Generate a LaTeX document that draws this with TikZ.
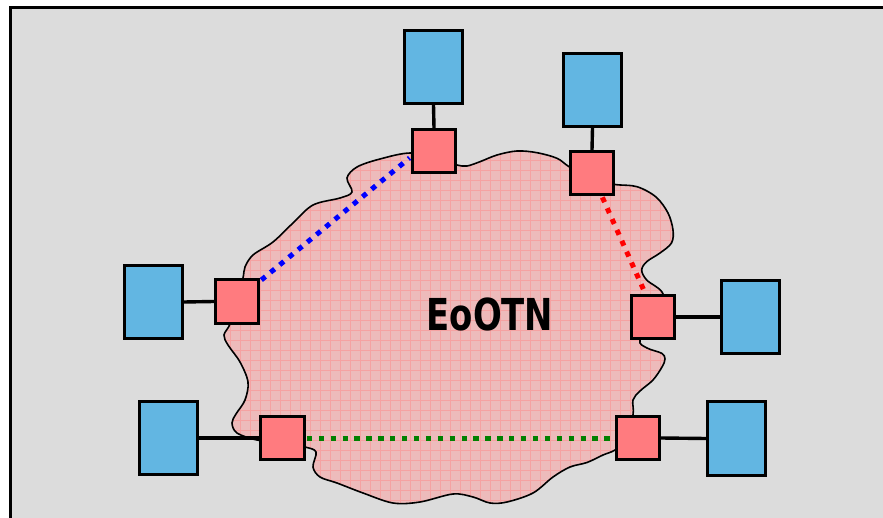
\documentclass[tikz,border=0pt]{standalone}
\usepackage{fontspec}
\newfontfamily\labelfont{DejaVu Sans}
\usetikzlibrary{calc}
\definecolor{bgGray}{HTML}{DCDCDC}
\definecolor{hostBlue}{HTML}{62B6E2}
\definecolor{nodeRed}{HTML}{FF7B7F}
\definecolor{cloudPink}{HTML}{EDBBBB}
\definecolor{gridPink}{HTML}{F5A2A2}
\definecolor{dotGreen}{HTML}{008000}
\tikzset{
  hostbox/.style={draw=black, line width=2.6pt, fill=hostBlue, inner sep=0pt, minimum width=58.5pt, minimum height=73.5pt},
  nebox/.style={draw=black, line width=2.6pt, fill=nodeRed, inner sep=0pt, minimum width=43.5pt, minimum height=43.5pt},
  link/.style={draw=black, line width=3.4pt},
  trail/.style={line width=5pt, dash pattern=on 5.3pt off 6.6pt},
}
\begin{document}
\begin{tikzpicture}[x=1pt, y=-1pt]
\useasboundingbox (0,0) rectangle (883,518);
\begin{scope}
\clip (0,0) rectangle (883,518);
\fill[white] (0,0) rectangle (883,518);
\draw[fill=bgGray, line width=3pt] (10.5,7.5) rectangle (900,540);
\end{scope}
% cloud
\def\cloudpath{plot[smooth cycle, tension=0.55] coordinates {
 (411,153) (440,160) (457,165) (467,166) (480,161.7) (497,155) (517,151) (537,152.7) (557,158.3) (569,166.7)
 (592,180) (615,184.5) (637,186.7) (656,197) (668,213) (673,230) (671.5,243) (660,253) (646.7,261.7)
 (641.7,270) (646.7,280) (663,294) (658,318) (640,340) (647,348) (661.7,353.3) (665,359) (662,367)
 (653,380) (640,391) (633,400) (633,415) (625,440) (615,450) (603,455) (587,462.5) (570,467) (553,477)
 (533,493) (507,502) (490,503) (473,497) (453,494) (420,502) (393,503) (363,493) (337,483) (320,477)
 (313,467) (316,452) (305,447) (280,442) (257,440) (237,433) (232,423) (236,414) (245,400) (248,382)
 (240,362) (228,345) (224,335) (230,324) (237,300) (243,278) (245,267) (253,255) (273,242) (293,223)
 (313,205) (340,198) (352,192) (347,178) (357,167) (380,159)}}
\fill[cloudPink] \cloudpath;
\begin{scope}
\clip \cloudpath;
\draw[gridPink, line width=0.9pt, step=10pt] (200,140) grid (700,520);
\end{scope}
\draw[black, line width=1.6pt] \cloudpath;
% network elements
\node[nebox] (r1) at (434,151) {};
\node[nebox] (r2) at (592,173) {};
\node[nebox] (r3) at (237,301.5) {};
\node[nebox] (r4) at (653,317) {};
\node[nebox] (r5) at (282.5,438) {};
\node[nebox] (r6) at (638,438) {};
% hosts
\node[hostbox] (b1) at (433.5,67) {};
\node[hostbox] (b2) at (592.5,90) {};
\node[hostbox] (b3) at (153.5,302) {};
\node[hostbox] (b4) at (750.5,317) {};
\node[hostbox] (b5) at (168.5,438) {};
\node[hostbox] (b6) at (736.5,438.5) {};
% links
\draw[link] (b1.south) -- (r1.north);
\draw[link] (b2.south) -- (r2.north);
\draw[link] (b3.east) -- (r3.west);
\draw[link] (r4.east) -- (b4.west);
\draw[link] (b5.east) -- (r5.west);
\draw[link] (r6.east) -- (b6.west);
% dotted trails
\draw[trail, blue] ($(r3.north east)+(1.3,1.5)$) -- ($(r1.west)!0.3!(r1.south west)+(-1.3,0)$);
\draw[trail, red] ($(r2.south)!0.45!(r2.south east)+(0,1.3)$) -- ($(r4.north west)!0.65!(r4.north)+(0,-1.3)$);
\draw[trail, dotGreen] ($(r5.east)+(1.3,0)$) -- ($(r6.west)+(-1.3,0)$);
% label
\node[anchor=base, inner sep=0pt] (lbl) at (490,330.7) {\labelfont\bfseries\fontsize{44}{44}\selectfont\scalebox{0.77}[1]{EoOTN}};
\end{tikzpicture}
\end{document}
